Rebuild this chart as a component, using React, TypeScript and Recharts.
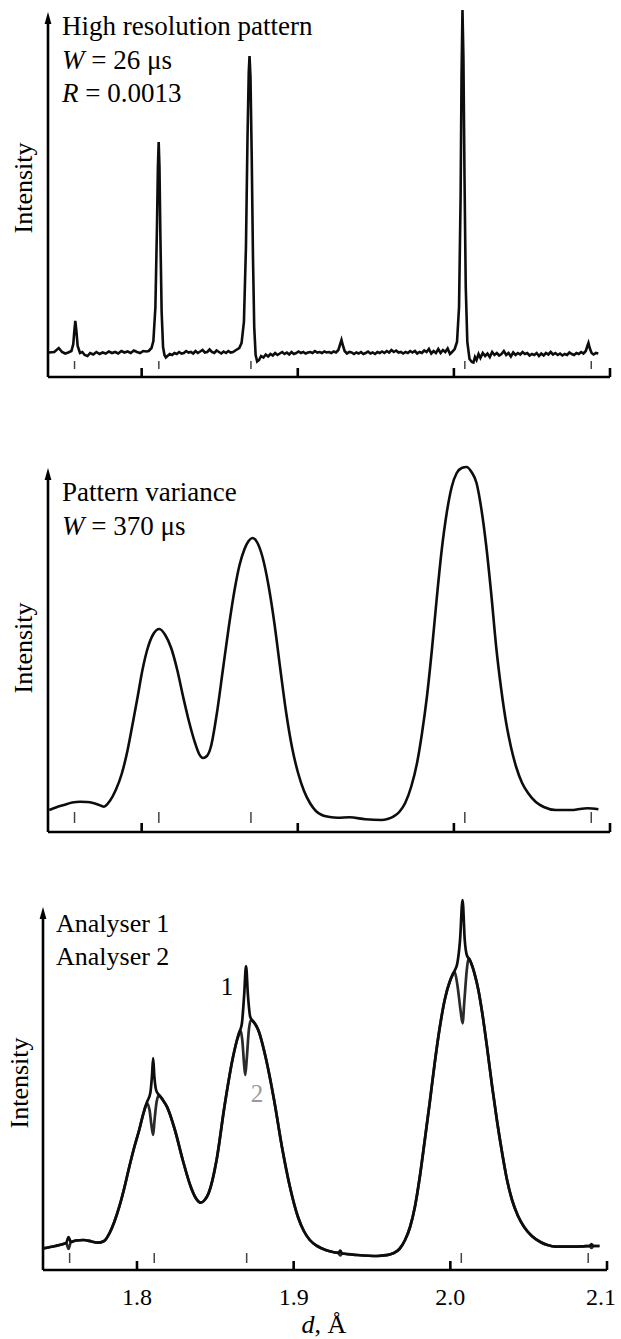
import React from "react";
import { ComposedChart, Line, Scatter, XAxis, YAxis, ReferenceLine } from "recharts";

type Pt = [number, number];

// d-spacing (Å) vs. intensity (arbitrary units, 0 at the axis)
const hiResPattern: Pt[] = [
  [1.7405, 24.5], [1.744, 25], [1.7469, 29], [1.749, 25], [1.751, 23.5], [1.753, 24.5], [1.755, 26],
  [1.7562, 33], [1.7568, 45], [1.7575, 56], [1.7582, 46], [1.759, 31], [1.7605, 24], [1.762, 25],
  [1.7635, 22], [1.7653, 21], [1.767, 24], [1.769, 22.5], [1.771, 25], [1.773, 23], [1.775, 24.5],
  [1.777, 23.5], [1.779, 25.5], [1.781, 24], [1.783, 25], [1.785, 23.5], [1.787, 26], [1.789, 24.5],
  [1.791, 25.5], [1.793, 24], [1.795, 26.5], [1.797, 25], [1.799, 24], [1.801, 26], [1.803, 25.5],
  [1.8045, 26], [1.8063, 29], [1.8075, 36], [1.8088, 70], [1.8098, 150], [1.8104, 210], [1.8109, 235],
  [1.8114, 210], [1.812, 140], [1.8128, 65], [1.8137, 30], [1.8146, 22], [1.8155, 19.5], [1.8165, 21],
  [1.818, 23], [1.8195, 22], [1.821, 24], [1.8225, 23], [1.824, 25], [1.8255, 23.5], [1.827, 24],
  [1.8285, 26], [1.83, 24.5], [1.8315, 25], [1.833, 23.5], [1.8345, 26], [1.836, 24], [1.8375, 25.5],
  [1.839, 27], [1.8405, 24.5], [1.842, 25], [1.8435, 27.5], [1.845, 25], [1.8465, 24], [1.848, 26.5],
  [1.8495, 25], [1.851, 23.5], [1.8525, 25.5], [1.854, 24], [1.8555, 26], [1.857, 24.5], [1.8585, 25],
  [1.8605, 27], [1.8625, 29], [1.864, 34], [1.8655, 55], [1.8668, 130], [1.8678, 240], [1.8686, 305],
  [1.8691, 321], [1.8697, 300], [1.8705, 220], [1.8713, 120], [1.8721, 50], [1.873, 22], [1.874, 15.5],
  [1.8752, 17], [1.8765, 21], [1.878, 19.5], [1.8795, 22.5], [1.881, 20.5], [1.8825, 23], [1.884, 21.5],
  [1.8855, 24], [1.887, 22], [1.8885, 23.5], [1.89, 25], [1.8915, 23], [1.893, 24.5], [1.8945, 22.5],
  [1.896, 25], [1.8975, 23], [1.899, 24], [1.9005, 25.5], [1.902, 24], [1.9035, 25], [1.905, 23.5],
  [1.9065, 24.5], [1.908, 25], [1.9095, 24], [1.911, 26], [1.9125, 24.5], [1.914, 25], [1.9155, 24],
  [1.917, 25.5], [1.9185, 24.5], [1.92, 25], [1.9215, 24], [1.923, 25.5], [1.9245, 24.5], [1.926, 27],
  [1.927, 32], [1.928, 37], [1.929, 31], [1.93, 26], [1.9315, 23.5], [1.933, 25], [1.9345, 24.5],
  [1.936, 23], [1.9375, 24.5], [1.939, 23.5], [1.9405, 25], [1.942, 23], [1.9435, 24], [1.945, 25.5],
  [1.9465, 23.5], [1.948, 24.5], [1.9495, 23], [1.951, 25], [1.9525, 24], [1.954, 25.5], [1.9555, 24],
  [1.957, 26], [1.9585, 24.5], [1.96, 27], [1.9615, 25], [1.963, 26.5], [1.9645, 24.5], [1.966, 25],
  [1.9675, 23.5], [1.969, 25], [1.9705, 24], [1.972, 26], [1.9735, 24.5], [1.975, 26], [1.9765, 23.5],
  [1.978, 25], [1.9795, 24], [1.981, 26.5], [1.9825, 25], [1.984, 28], [1.9855, 23.5], [1.987, 26],
  [1.9885, 24], [1.99, 28], [1.9915, 24], [1.993, 27], [1.9945, 25], [1.996, 28.5], [1.9975, 23],
  [1.9988, 25], [2.0005, 28], [2.002, 35], [2.0033, 70], [2.0043, 180], [2.0049, 300], [2.0055, 367],
  [2.0061, 320], [2.0068, 200], [2.0076, 90], [2.0086, 35], [2.01, 18], [2.0115, 15], [2.0125, 14.5],
  [2.0135, 20], [2.0145, 17], [2.0158, 23], [2.017, 19], [2.0185, 24], [2.02, 21], [2.0215, 23.5],
  [2.023, 20], [2.0245, 25], [2.026, 22], [2.0275, 24], [2.029, 21.5], [2.0305, 23], [2.032, 26],
  [2.0335, 22], [2.035, 24], [2.0365, 20.5], [2.038, 24.5], [2.0395, 22], [2.041, 24], [2.0425, 22.5],
  [2.044, 25], [2.0455, 23], [2.047, 24], [2.0485, 21.5], [2.05, 23], [2.0515, 22], [2.053, 24],
  [2.0545, 21], [2.056, 23.5], [2.0575, 21.5], [2.059, 24], [2.0605, 22.5], [2.062, 25], [2.0635, 22.5],
  [2.065, 24], [2.0665, 22], [2.068, 23.5], [2.0695, 21.5], [2.071, 23], [2.0725, 22], [2.074, 24.5],
  [2.0755, 23], [2.077, 22], [2.0785, 24], [2.08, 23], [2.0815, 25], [2.083, 23.5], [2.0845, 26],
  [2.0855, 31], [2.0862, 34], [2.087, 29], [2.0882, 24], [2.0895, 22.5], [2.091, 24], [2.0925, 23.5],
];

const varianceCurve: Pt[] = [
  [1.7408, 22], [1.745, 24.5], [1.7501, 27], [1.7555, 29.5], [1.7606, 30.3], [1.7645, 30], [1.7682, 29.3],
  [1.772, 27.5], [1.7758, 25.3], [1.7796, 31], [1.7834, 42], [1.7872, 58], [1.791, 82], [1.7942, 108],
  [1.7974, 135], [1.8005, 162], [1.8037, 183], [1.8075, 198], [1.8113, 203], [1.8151, 197], [1.8189, 184],
  [1.8228, 162], [1.8266, 135], [1.8304, 110], [1.8342, 89], [1.8368, 78], [1.8393, 74], [1.8418, 76],
  [1.8443, 85], [1.8481, 118], [1.852, 162], [1.8558, 205], [1.8595, 242], [1.8627, 267], [1.8659, 283],
  [1.8685, 291], [1.871, 294], [1.8742, 289], [1.8774, 275], [1.8812, 247], [1.885, 209], [1.8888, 163],
  [1.8926, 119], [1.8964, 84], [1.9002, 59], [1.904, 41], [1.9078, 29], [1.9116, 21], [1.9154, 17],
  [1.9205, 15], [1.9256, 14.3], [1.9332, 14.7], [1.9433, 12.7], [1.9536, 12], [1.9575, 13], [1.9612, 15.3],
  [1.965, 20], [1.9688, 29], [1.9726, 45], [1.9764, 69], [1.9795, 98], [1.9827, 135], [1.9859, 182],
  [1.9891, 235], [1.9922, 282], [1.9954, 319], [1.9986, 345], [2.0018, 359], [2.005, 364], [2.0081, 365],
  [2.0113, 360], [2.0145, 349], [2.0177, 322], [2.0208, 285], [2.024, 237], [2.0271, 185], [2.0303, 143],
  [2.0335, 109], [2.0367, 84], [2.0399, 65], [2.0437, 49], [2.0475, 39], [2.0525, 30], [2.0576, 25],
  [2.0653, 22], [2.0754, 22], [2.0805, 23], [2.0855, 23.7], [2.0926, 22.7],
];

const analyser1: Pt[] = [
  [1.7401, 21.7], [1.7479, 24], [1.753, 26], [1.7548, 27], [1.7563, 33], [1.7578, 28], [1.761, 29.5],
  [1.7659, 30], [1.771, 28.5], [1.7748, 27.3], [1.779, 29], [1.7824, 36.7], [1.7855, 48], [1.7887, 63.3],
  [1.7919, 82], [1.7951, 103.3], [1.7983, 123], [1.8014, 140], [1.804, 156], [1.8064, 168], [1.8085, 177],
  [1.8096, 195], [1.8103, 212], [1.811, 195], [1.8122, 180], [1.814, 175], [1.8165, 170], [1.8191, 163.3],
  [1.8242, 140], [1.8292, 110], [1.8343, 83.3], [1.8375, 72], [1.8407, 67.3], [1.8432, 70], [1.8457, 76.7],
  [1.8508, 110], [1.8558, 163.3], [1.8609, 210], [1.8635, 228], [1.8659, 240], [1.867, 247], [1.8684, 275],
  [1.8696, 304], [1.8708, 275], [1.8723, 253], [1.8745, 248], [1.8774, 240], [1.8825, 210], [1.8875, 170],
  [1.8925, 123.3], [1.8976, 83.3], [1.9027, 53.3], [1.9065, 39], [1.9103, 30], [1.915, 24], [1.9204, 20],
  [1.925, 18], [1.9285, 17], [1.9297, 19.5], [1.9309, 16.5], [1.9406, 15], [1.9534, 14], [1.959, 14.8],
  [1.9635, 16.7], [1.9675, 21], [1.9711, 30], [1.9743, 43], [1.9774, 63.3], [1.9805, 93], [1.9837, 130],
  [1.9869, 168], [1.99, 206.7], [1.9932, 242], [1.9964, 270], [2.0, 290], [2.0027, 299], [2.0045, 307],
  [2.0062, 330], [2.0078, 370], [2.0092, 330], [2.0105, 315], [2.0125, 310], [2.0154, 296.7], [2.0179, 280],
  [2.0204, 256.7], [2.0235, 222], [2.0267, 183.3], [2.0299, 148], [2.0331, 116.7], [2.0362, 90], [2.0394, 70],
  [2.0432, 54], [2.047, 43.3], [2.052, 34], [2.0572, 28.3], [2.062, 25], [2.0673, 23.3], [2.074, 23.3],
  [2.08, 23.3], [2.085, 23.7], [2.089, 24], [2.0901, 26], [2.0912, 24], [2.0952, 24],
];

const analyser2: Pt[] = [
  [1.7401, 21.7], [1.7479, 24], [1.753, 26], [1.7548, 27], [1.7563, 21], [1.7578, 28], [1.761, 29.5],
  [1.7659, 30], [1.771, 28.5], [1.7748, 27.3], [1.779, 29], [1.7824, 36.7], [1.7855, 48], [1.7887, 63.3],
  [1.7919, 82], [1.7951, 103.3], [1.7983, 123], [1.8014, 140], [1.804, 156], [1.8064, 166.7], [1.808, 160],
  [1.8092, 145], [1.8103, 135], [1.8112, 150], [1.8125, 168], [1.814, 175], [1.8165, 170], [1.8191, 163.3],
  [1.8242, 140], [1.8292, 110], [1.8343, 83.3], [1.8375, 72], [1.8407, 67.3], [1.8432, 70], [1.8457, 76.7],
  [1.8508, 110], [1.8558, 163.3], [1.8609, 210], [1.8635, 228], [1.8659, 240], [1.8672, 230], [1.8684, 205],
  [1.8691, 195], [1.87, 210], [1.8714, 240], [1.8727, 250], [1.8745, 248], [1.8774, 240], [1.8825, 210],
  [1.8875, 170], [1.8925, 123.3], [1.8976, 83.3], [1.9027, 53.3], [1.9065, 39], [1.9103, 30], [1.915, 24],
  [1.9204, 20], [1.925, 18], [1.9285, 17], [1.9297, 14.5], [1.9309, 16.5], [1.9406, 15], [1.9534, 14],
  [1.959, 14.8], [1.9635, 16.7], [1.9675, 21], [1.9711, 30], [1.9743, 43], [1.9774, 63.3], [1.9805, 93],
  [1.9837, 130], [1.9869, 168], [1.99, 206.7], [1.9932, 242], [1.9964, 270], [2.0, 290], [2.0027, 298.3],
  [2.0045, 285], [2.0065, 260], [2.0078, 246.7], [2.009, 270], [2.0105, 300], [2.0116, 311.7], [2.0135, 306],
  [2.0154, 296.7], [2.0179, 280], [2.0204, 256.7], [2.0235, 222], [2.0267, 183.3], [2.0299, 148],
  [2.0331, 116.7], [2.0362, 90], [2.0394, 70], [2.0432, 54], [2.047, 43.3], [2.052, 34], [2.0572, 28.3],
  [2.062, 25], [2.0673, 23.3], [2.074, 23.3], [2.08, 23.3], [2.085, 23.7], [2.089, 24], [2.0901, 22],
  [2.0912, 24], [2.0952, 24],
];

// Bragg reflection positions, Å
const reflections = [1.757, 1.811, 1.87, 2.007, 2.088];
const dTicks = [1.8, 1.9, 2.0, 2.1];
const dRange: [number, number] = [1.74, 2.1];

const FONT = "'Liberation Serif', 'Times New Roman', Times, serif";

const toRows = (pts: Pt[]) => pts.map(([d, i]) => ({ d, i }));
const reflectionRows = reflections.map((d) => ({ d, i: 0 }));

// y axis with an arrow head on top
function AxisArrow(props: any) {
  const { x1, y1, x2, y2 } = props;
  return (
    <g>
      <line x1={x1} y1={y1} x2={x2} y2={y2 + 8} stroke="#000" strokeWidth={2.6} />
      <path d={`M${x2},${y2} L${x2 - 3.4},${y2 + 12} L${x2 + 3.4},${y2 + 12} Z`} fill="#000" />
    </g>
  );
}

// inward tick, optional label under the axis (last label pulled in from the page edge)
const makeTick = (withLabel: boolean) => (props: any) => {
  const { x, y, payload } = props;
  return (
    <g>
      <line x1={x} x2={x} y1={y} y2={y - 9} stroke="#000" strokeWidth={2.6} />
      {withLabel && (
        <text x={Math.min(x, 601)} y={y + 35} textAnchor="middle" fontFamily={FONT} fontSize={24} fill="#000">
          {Number(payload.value).toFixed(1)}
        </text>
      )}
    </g>
  );
};

const makeReflectionMark = (lo: number, hi: number) => (props: any) => (
  <line x1={props.cx} x2={props.cx} y1={props.cy - hi} y2={props.cy - lo} stroke="#444" strokeWidth={1.5} />
);

type PanelProps = {
  top: number;
  height: number;
  margin: { top: number; right: number; bottom: number; left: number };
  xAxisHeight: number;
  yMax: number;
  arrowTop: number;
  markLo: number;
  markHi: number;
  tickLabels: boolean;
  children: React.ReactNode;
};

function Panel(p: PanelProps) {
  return (
    <div style={{ position: "absolute", left: 0, top: p.top }}>
      <ComposedChart width={621} height={p.height} margin={p.margin}>
        <XAxis
          dataKey="d"
          type="number"
          domain={dRange}
          ticks={dTicks}
          height={p.xAxisHeight}
          axisLine={{ stroke: "#000", strokeWidth: 2.7 }}
          tickLine={false}
          tickSize={0}
          tickMargin={0}
          tick={makeTick(p.tickLabels)}
          interval={0}
        />
        <YAxis dataKey="i" type="number" domain={[0, p.yMax]} hide />
        <ReferenceLine
          segment={[{ x: dRange[0], y: 0 }, { x: dRange[0], y: p.arrowTop }]}
          ifOverflow="visible"
          shape={AxisArrow}
        />
        <Scatter data={reflectionRows} dataKey="i" shape={makeReflectionMark(p.markLo, p.markHi)} isAnimationActive={false} />
        {p.children}
      </ComposedChart>
    </div>
  );
}

function Caption({ x, y, children, size = 27, fill = "#000", anchor = "start" }: any) {
  return (
    <text x={x} y={y} fontFamily={FONT} fontSize={size} fill={fill} textAnchor={anchor}>
      {children}
    </text>
  );
}

function IntensityLabel({ x, y }: { x: number; y: number }) {
  return (
    <text
      x={x}
      y={y}
      transform={`rotate(-90 ${x} ${y})`}
      textAnchor="middle"
      dominantBaseline="central"
      fontFamily={FONT}
      fontSize={26}
      fill="#000"
    >
      Intensity
    </text>
  );
}

export default function App() {
  return (
    <div style={{ position: "absolute", left: 0, top: 0, width: 621, height: 1339, background: "#fff" }}>
      <Panel
        top={0}
        height={400}
        margin={{ top: 10, right: 11, bottom: 0, left: 48 }}
        xAxisHeight={23}
        yMax={367}
        arrowTop={365}
        markLo={8}
        markHi={16}
        tickLabels={false}
      >
        <Line
          data={toRows(hiResPattern)}
          dataKey="i"
          type="linear"
          stroke="#0d0d0d"
          strokeWidth={2.6}
          dot={false}
          activeDot={false}
          isAnimationActive={false}
        />
      </Panel>

      <Panel
        top={430}
        height={420}
        margin={{ top: 37, right: 11, bottom: 0, left: 48 }}
        xAxisHeight={18}
        yMax={365}
        arrowTop={364}
        markLo={9}
        markHi={20}
        tickLabels={false}
      >
        <Line
          data={toRows(varianceCurve)}
          dataKey="i"
          type="monotone"
          stroke="#0d0d0d"
          strokeWidth={2.6}
          dot={false}
          activeDot={false}
          isAnimationActive={false}
        />
      </Panel>

      <Panel
        top={880}
        height={459}
        margin={{ top: 20, right: 14, bottom: 0, left: 43 }}
        xAxisHeight={69}
        yMax={370}
        arrowTop={363}
        markLo={7}
        markHi={17}
        tickLabels={true}
      >
        <Line
          data={toRows(analyser2)}
          dataKey="i"
          type="monotone"
          stroke="#2a2a2a"
          strokeWidth={2.7}
          dot={false}
          activeDot={false}
          isAnimationActive={false}
        />
        <Line
          data={toRows(analyser1)}
          dataKey="i"
          type="monotone"
          stroke="#0d0d0d"
          strokeWidth={2.7}
          dot={false}
          activeDot={false}
          isAnimationActive={false}
        />
      </Panel>

      <svg
        width={621}
        height={1339}
        style={{ position: "absolute", left: 0, top: 0, pointerEvents: "none" }}
      >
        <Caption x={62} y={35}>High resolution pattern</Caption>
        <Caption x={62} y={69}>
          <tspan fontStyle="italic">W</tspan> = 26 μs
        </Caption>
        <Caption x={62} y={102}>
          <tspan fontStyle="italic">R</tspan> = 0.0013
        </Caption>
        <IntensityLabel x={23} y={188} />

        <Caption x={62} y={501}>Pattern variance</Caption>
        <Caption x={62} y={535}>
          <tspan fontStyle="italic">W</tspan> = 370 μs
        </Caption>
        <IntensityLabel x={23} y={648} />

        <Caption x={56} y={932} size={26}>Analyser 1</Caption>
        <Caption x={56} y={965} size={26}>Analyser 2</Caption>
        <IntensityLabel x={19} y={1083} />
        <Caption x={227} y={995} size={25} anchor="middle">1</Caption>
        <Caption x={257} y={1102} size={25} fill="#9a9a9a" anchor="middle">2</Caption>

        <Caption x={324} y={1333} size={26} anchor="middle">
          <tspan fontStyle="italic">d</tspan>, Å
        </Caption>
      </svg>
    </div>
  );
}
